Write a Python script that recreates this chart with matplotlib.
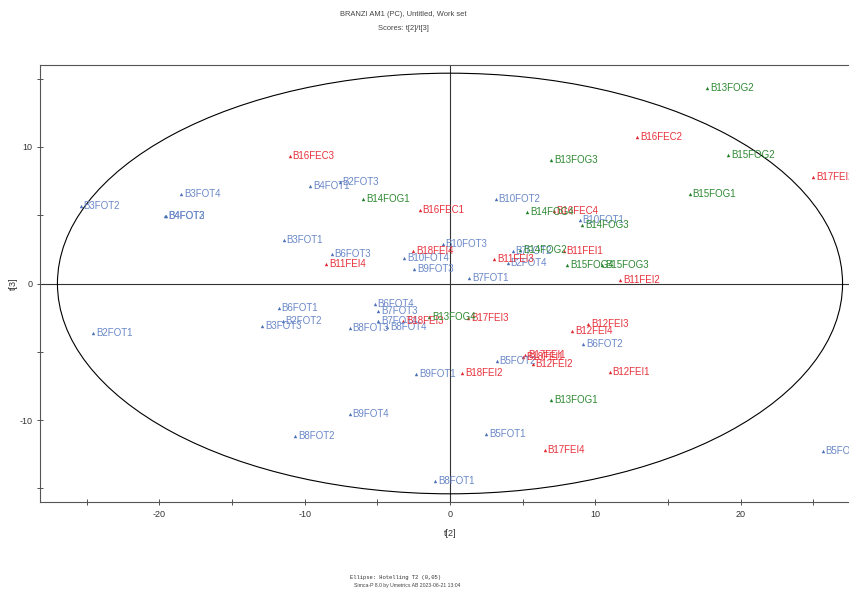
"""Score plot t[2]/t[3] (Simca-P style) with Hotelling T2 ellipse."""

import matplotlib
matplotlib.use("Agg")
import matplotlib.pyplot as plt
from matplotlib.patches import Ellipse

plt.rcParams["font.family"] = ["Liberation Sans", "DejaVu Sans"]

# --- data -------------------------------------------------------------------
FOT_names = ["B3FOT2", "B3FOT4", "B4FOT2", "B4FOT3", "B3FOT1", "B4FOT1", "B2FOT3",
             "B6FOT3", "B10FOT4", "B10FOT3", "B9FOT3", "B7FOT1", "B10FOT2", "B2FOT4",
             "B10FOT1", "B7FOT2", "B2FOT1", "B6FOT1", "B2FOT2", "B3FOT3", "B6FOT4",
             "B7FOT3", "B7FOT4", "B8FOT3", "B8FOT4", "B9FOT1", "B5FOT2", "B6FOT2",
             "B9FOT4", "B8FOT2", "B5FOT1", "B8FOT1", "B5FOT4"]
FOT_t2 = [-25.40, -18.50, -19.60, -19.55, -11.43, -9.61, -7.59,
          -8.12, -3.15, -0.50, -2.46, 1.31, 3.15, 3.98,
          8.92, 4.32, -24.53, -11.79, -11.52, -12.92, -5.17,
          -4.94, -4.94, -6.90, -4.30, -2.34, 3.22, 9.15,
          -6.90, -10.64, 2.48, -1.03, 25.63]
FOT_t3 = [5.66, 6.57, 4.95, 4.92, 3.22, 7.13, 7.45,
          2.18, 1.88, 2.86, 1.08, 0.42, 6.21, 1.47,
          4.64, 2.37, -3.61, -1.83, -2.71, -3.13, -1.49,
          -2.03, -2.71, -3.25, -3.18, -6.62, -5.69, -4.42,
          -9.55, -11.19, -11.01, -14.48, -12.29]

FE_names = ["B16FEC3", "B16FEC2", "B17FEI2", "B16FEC1", "B16FEC4", "B11FEI1", "B11FEI2",
            "B11FEI3", "B18FEI4", "B11FEI4", "B17FEI3", "B12FEI4", "B12FEI3", "B17FEI1",
            "B18FEI1", "B12FEI2", "B12FEI1", "B18FEI2", "B18FEI3", "B17FEI4"]
FE_t2 = [-11.03, 12.88, 24.99, -2.07, 7.12, 7.81, 11.72,
         3.06, -2.53, -8.50, 1.26, 8.39, 9.50, 5.17,
         5.03, 5.68, 10.99, 0.85, -3.22, 6.50]
FE_t3 = [9.30, 10.72, 7.82, 5.37, 5.30, 2.37, 0.24,
         1.81, 2.37, 1.44, -2.56, -3.49, -3.00, -5.27,
         -5.35, -5.93, -6.50, -6.54, -2.76, -12.16]

FOG_names = ["B13FOG2", "B15FOG2", "B13FOG3", "B15FOG1", "B14FOG4", "B14FOG3", "B14FOG1",
             "B14FOG2", "B15FOG4", "B15FOG3", "B13FOG4", "B13FOG1"]
FOG_t2 = [17.70, 19.12, 6.97, 16.48, 5.31, 9.08, -5.98,
          4.83, 8.05, 10.46, -1.43, 6.97]
FOG_t3 = [14.29, 9.43, 9.03, 6.54, 5.22, 4.32, 6.21,
          2.42, 1.34, 1.39, -2.47, -8.50]

T2_a, T2_b = 27.0, 15.4          # semi-eixos da elipse Hotelling T2 (0,05)

COR_AZUL, COR_VERMELHO, COR_VERDE = "#4a6fb5", "#e0262e", "#1e7a25"
TXT_AZUL, TXT_VERMELHO, TXT_VERDE = "#6a88c8", "#e8323c", "#2f8a33"


def _grupo(ax, nomes, xs, ys, cor, cor_txt):
    ax.scatter(xs, ys, marker="^", s=6, color=cor, zorder=3, linewidths=0)
    for n, x, y in zip(nomes, xs, ys):
        ax.annotate(n, (x, y), xytext=(2, 0), textcoords="offset points",
                    ha="left", va="center", fontsize=7, color=cor_txt, zorder=4)


fig = plt.figure(figsize=(8.49, 5.91), dpi=100)
W, H = 849, 591
# plot area runs past the right edge of the picture, like the reference
ax = fig.add_axes([40 / W, 1 - 502 / H, 820 / W, 437 / H])
ax.set_xlim(-28.2, 28.2)
ax.set_ylim(-16, 16)

ax.axhline(0, color="#333333", lw=0.8, zorder=1)
ax.axvline(0, color="#333333", lw=0.8, zorder=1)
ax.add_patch(Ellipse((0, 0), 2 * T2_a, 2 * T2_b, fill=False, ec="black", lw=0.8, zorder=2))

_grupo(ax, FOT_names, FOT_t2, FOT_t3, COR_AZUL, TXT_AZUL)
_grupo(ax, FE_names, FE_t2, FE_t3, COR_VERMELHO, TXT_VERMELHO)
_grupo(ax, FOG_names, FOG_t2, FOG_t3, COR_VERDE, TXT_VERDE)

ax.set_xticks(range(-25, 30, 5))
ax.set_xticklabels([str(v) if v % 10 == 0 else "" for v in range(-25, 30, 5)])
ax.set_yticks(range(-15, 20, 5))
ax.set_yticklabels([str(v) if v % 10 == 0 else "" for v in range(-15, 20, 5)])
ax.tick_params(direction="inout", length=5, width=0.6, labelsize=6.5,
               colors="#333333", pad=3)
for s in ax.spines.values():
    s.set_color("#555555")
    s.set_linewidth(0.8)

fig.text(450 / W, 1 - 534 / H, "t[2]", ha="center", va="center", fontsize=6.5, color="#333333")
fig.text(13 / W, 1 - 284 / H, "t[3]", ha="center", va="center", rotation=90,
         fontsize=6.5, color="#333333")

fig.text(403 / W, 1 - 15 / H, "BRANZI AM1 (PC), Untitled, Work set", ha="center",
         va="center", fontsize=5.4, color="#444444")
fig.text(403 / W, 1 - 28 / H, "Scores: t[2]/t[3]", ha="center", va="center",
         fontsize=5.4, color="#444444")

fig.text(395 / W, 1 - 578 / H, "Ellipse: Hotelling T2 (0,05)", ha="center", va="center",
         fontsize=4.0, family="Liberation Mono", color="#333333")
fig.text(407 / W, 1 - 586 / H, "Simca-P 8.0 by Umetrics AB 2023-06-21 13:04", ha="center",
         va="center", fontsize=3.7, color="#444444")

fig.savefig("out.png", dpi=100)
